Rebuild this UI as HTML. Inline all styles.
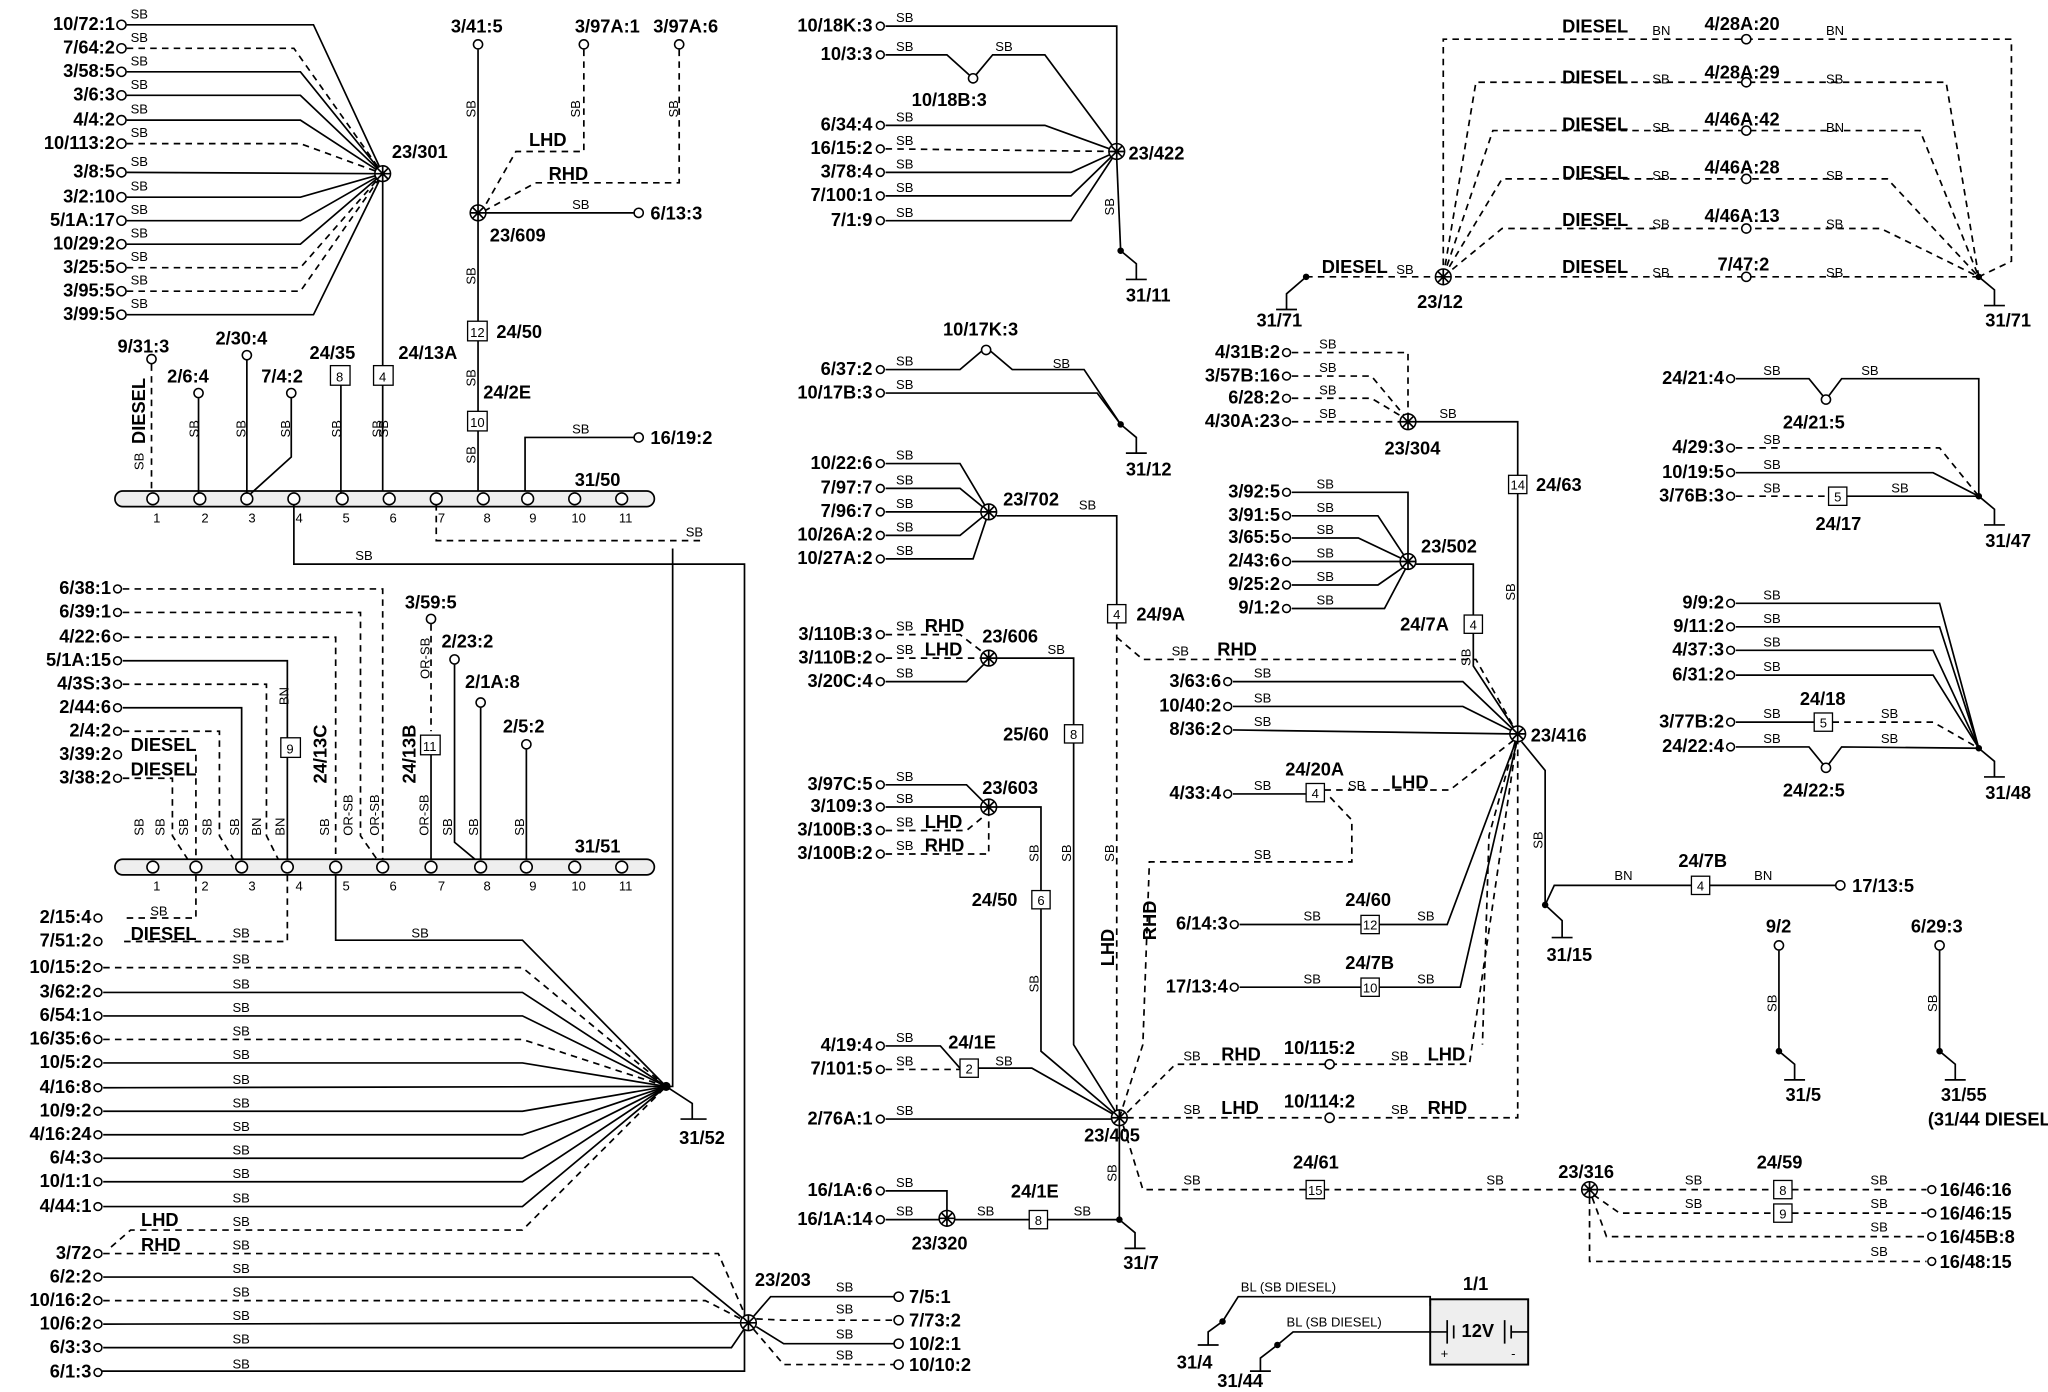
<!DOCTYPE html>
<html><head><meta charset="utf-8"><style>
html,body{margin:0;padding:0;background:#fff}
svg{display:block}
text{font-family:"Liberation Sans",sans-serif;fill:#000}
.t{font-size:14px;font-weight:bold}
.s{font-size:10px}
.n{font-size:10px}
line,path,polyline{stroke:#000;stroke-width:1.3;fill:none}
.d{stroke-dasharray:5,4}
.c{fill:#fff;stroke:#000;stroke-width:1.2}
</style></head><body>
<svg width="2048" height="1392" viewBox="0 0 1568 1066" preserveAspectRatio="none" xmlns="http://www.w3.org/2000/svg">
<defs>
<symbol id="h" overflow="visible"><g><circle r="6" fill="#fff" stroke="#000" stroke-width="1.2"/><path d="M-6 0H6M0-6V6M-4-4L4 4M-4 4L4-4" stroke-width="1"/></g></symbol>
<symbol id="g" overflow="visible"><path d="M0 0L12 10V22M4 22H20"/><circle r="2.5" fill="#000"/></symbol>
</defs>
<g>
<g class="t" text-anchor="end">
<text x="88" y="23">10/72:1</text><text x="88" y="41">7/64:2</text><text x="88" y="59">3/58:5</text>
<text x="88" y="77">3/6:3</text><text x="88" y="96">4/4:2</text><text x="88" y="114">10/113:2</text>
<text x="88" y="136">3/8:5</text><text x="88" y="155">3/2:10</text><text x="88" y="173">5/1A:17</text>
<text x="88" y="191">10/29:2</text><text x="88" y="209">3/25:5</text><text x="88" y="227">3/95:5</text>
<text x="88" y="245">3/99:5</text>
</g>
<g class="s"><text x="100" y="14">SB</text><text x="100" y="32">SB</text><text x="100" y="50">SB</text><text x="100" y="68">SB</text><text x="100" y="87">SB</text><text x="100" y="105">SB</text><text x="100" y="127">SB</text><text x="100" y="146">SB</text><text x="100" y="164">SB</text><text x="100" y="182">SB</text><text x="100" y="200">SB</text><text x="100" y="218">SB</text><text x="100" y="236">SB</text></g>
<g>
<circle class="c" cx="93" cy="19" r="3.5"/><circle class="c" cx="93" cy="37" r="3.5"/><circle class="c" cx="93" cy="55" r="3.5"/><circle class="c" cx="93" cy="73" r="3.5"/><circle class="c" cx="93" cy="92" r="3.5"/><circle class="c" cx="93" cy="110" r="3.5"/><circle class="c" cx="93" cy="132" r="3.5"/><circle class="c" cx="93" cy="151" r="3.5"/><circle class="c" cx="93" cy="169" r="3.5"/><circle class="c" cx="93" cy="187" r="3.5"/><circle class="c" cx="93" cy="205" r="3.5"/><circle class="c" cx="93" cy="223" r="3.5"/><circle class="c" cx="93" cy="241" r="3.5"/>
<polyline points="97,19 240,19 293,133"/>
<polyline class="d" points="97,37 225,37 293,133"/>
<polyline points="97,55 230,55 293,133"/>
<polyline points="97,73 230,73 293,133"/>
<polyline points="97,92 230,92 293,133"/>
<polyline class="d" points="97,110 230,110 293,133"/>
<polyline points="97,132 293,133"/>
<polyline points="97,151 230,151 293,133"/>
<polyline points="97,169 230,169 293,133"/>
<polyline points="97,187 230,187 293,133"/>
<polyline class="d" points="97,205 230,205 293,133"/>
<polyline class="d" points="97,223 230,223 293,133"/>
<polyline points="97,241 240,241 293,133"/>
<line x1="293" y1="133" x2="293" y2="380"/>
</g>
<use href="#h" x="293" y="133"/>
<text class="t" x="300" y="121">23/301</text>
<text class="s" transform="translate(292,335) rotate(-90)">SB</text>
<text class="t" x="365" y="25" text-anchor="middle">3/41:5</text>
<text class="t" x="465" y="25" text-anchor="middle">3/97A:1</text>
<text class="t" x="525" y="25" text-anchor="middle">3/97A:6</text>
<circle class="c" cx="366" cy="34" r="3.5"/><circle class="c" cx="447" cy="34" r="3.5"/><circle class="c" cx="520" cy="34" r="3.5"/>
<line x1="366" y1="38" x2="366" y2="380"/>
<polyline class="d" points="447,38 447,116 395,116 370,160"/>
<polyline class="d" points="520,38 520,140 410,140 370,162"/>
<text class="t" x="405" y="112">LHD</text><text class="t" x="420" y="138">RHD</text>
<text class="s" transform="translate(364,90) rotate(-90)">SB</text>
<text class="s" transform="translate(444,90) rotate(-90)">SB</text>
<text class="s" transform="translate(519,90) rotate(-90)">SB</text>
<use href="#h" x="366" y="163"/>
<line x1="372" y1="163" x2="485" y2="163"/><circle class="c" cx="489" cy="163" r="3.5"/>
<text class="s" x="438" y="160">SB</text><text class="t" x="498" y="168">6/13:3</text>
<text class="t" x="375" y="185">23/609</text>
<text class="s" transform="translate(364,218) rotate(-90)">SB</text>
<rect x="358" y="246" width="15" height="15" fill="#fff" stroke="#000"/><text class="n" x="365.5" y="258" text-anchor="middle">12</text>
<text class="t" x="380" y="259">24/50</text>
<text class="s" transform="translate(364,296) rotate(-90)">SB</text>
<text class="t" x="370" y="305">24/2E</text>
<rect x="358" y="315" width="15" height="15" fill="#fff" stroke="#000"/><text class="n" x="365.5" y="327" text-anchor="middle">10</text>
<text class="s" transform="translate(364,355) rotate(-90)">SB</text>
<polyline points="402,380 402,335 485,335"/><circle class="c" cx="489" cy="335" r="3.5"/>
<text class="s" x="438" y="332">SB</text><text class="t" x="498" y="340">16/19:2</text>
<rect x="88" y="376" width="413" height="12" rx="6" fill="#eee" stroke="#000" stroke-width="1.3"/>
<g class="c">
<circle cx="117" cy="382" r="4.5"/><circle cx="153" cy="382" r="4.5"/><circle cx="189" cy="382" r="4.5"/><circle cx="225" cy="382" r="4.5"/><circle cx="262" cy="382" r="4.5"/><circle cx="298" cy="382" r="4.5"/><circle cx="334" cy="382" r="4.5"/><circle cx="370" cy="382" r="4.5"/><circle cx="404" cy="382" r="4.5"/><circle cx="440" cy="382" r="4.5"/><circle cx="476" cy="382" r="4.5"/>
</g>
<g class="s" text-anchor="middle"><text x="120" y="400">1</text><text x="157" y="400">2</text><text x="193" y="400">3</text><text x="229" y="400">4</text><text x="265" y="400">5</text><text x="301" y="400">6</text><text x="338" y="400">7</text><text x="373" y="400">8</text><text x="408" y="400">9</text><text x="443" y="400">10</text><text x="479" y="400">11</text></g>
<text class="t" x="440" y="372">31/50</text>
<text class="t" x="90" y="270">9/31:3</text><circle class="c" cx="116" cy="275" r="3.5"/>
<line class="d" x1="116" y1="279" x2="116" y2="377"/>
<text class="t" transform="translate(111,340) rotate(-90)">DIESEL</text>
<text class="s" transform="translate(110,360) rotate(-90)">SB</text>
<text class="t" x="128" y="293">2/6:4</text><circle class="c" cx="152" cy="301" r="3.5"/><line x1="152" y1="305" x2="152" y2="378"/>
<text class="t" x="165" y="264">2/30:4</text><circle class="c" cx="189" cy="272" r="3.5"/><line x1="189" y1="276" x2="189" y2="378"/>
<text class="t" x="200" y="293">7/4:2</text><circle class="c" cx="223" cy="301" r="3.5"/><polyline points="223,305 223,350 192,378"/>
<text class="s" transform="translate(152,335) rotate(-90)">SB</text><text class="s" transform="translate(188,335) rotate(-90)">SB</text><text class="s" transform="translate(222,335) rotate(-90)">SB</text><text class="s" transform="translate(261,335) rotate(-90)">SB</text><text class="s" transform="translate(297,335) rotate(-90)">SB</text>
<text class="t" x="237" y="275">24/35</text><rect x="253" y="280" width="15" height="15" fill="#fff" stroke="#000"/><text class="n" x="260" y="292" text-anchor="middle">8</text><line x1="261" y1="295" x2="261" y2="378"/>
<rect x="286" y="280" width="15" height="15" fill="#fff" stroke="#000"/><text class="n" x="293" y="292" text-anchor="middle">4</text>
<text class="t" x="305" y="275">24/13A</text>
<polyline points="225,386 225,432 570,432 570,1050 77,1050"/>
<text class="s" x="272" y="429">SB</text>
<polyline class="d" points="334,386 334,414 540,414"/><text class="s" x="525" y="411">SB</text>
<g class="t" text-anchor="end">
<text x="85" y="455">6/38:1</text><text x="85" y="473">6/39:1</text><text x="85" y="492">4/22:6</text><text x="85" y="510">5/1A:15</text><text x="85" y="528">4/3S:3</text><text x="85" y="546">2/44:6</text><text x="85" y="564">2/4:2</text><text x="85" y="582">3/39:2</text><text x="85" y="600">3/38:2</text>
</g>
<g class="c"><circle cx="90" cy="451" r="3"/><circle cx="90" cy="469" r="3"/><circle cx="90" cy="488" r="3"/><circle cx="90" cy="506" r="3"/><circle cx="90" cy="524" r="3"/><circle cx="90" cy="542" r="3"/><circle cx="90" cy="560" r="3"/><circle cx="90" cy="578" r="3"/><circle cx="90" cy="596" r="3"/></g>
<polyline class="d" points="94,451 293,451 293,658"/>
<polyline class="d" points="94,469 276,469 276,640 290,660"/>
<polyline class="d" points="94,488 257,488 257,658"/>
<polyline points="94,506 220,506 220,658"/>
<polyline class="d" points="94,524 204,524 204,640 214,660"/>
<polyline points="94,542 185,542 185,658"/>
<polyline class="d" points="94,560 168,560 168,640 180,660"/>
<polyline class="d" points="150,578 150,658"/><polyline class="d" points="94,596 132,596 132,640 145,660"/>
<text class="t" x="100" y="575">DIESEL</text><text class="t" x="100" y="594">DIESEL</text>
<rect x="215" y="565" width="15" height="15" fill="#fff" stroke="#000"/><text class="n" x="222" y="577" text-anchor="middle">9</text>
<text class="t" transform="translate(250,600) rotate(-90)">24/13C</text>
<text class="s" transform="translate(221,540) rotate(-90)">BN</text>
<text class="t" x="310" y="466">3/59:5</text><circle class="c" cx="330" cy="474" r="3.5"/><line class="d" x1="330" y1="478" x2="330" y2="560"/>
<text class="s" transform="translate(329,520) rotate(-90)">OR-SB</text>
<rect x="322" y="563" width="15" height="15" fill="#fff" stroke="#000"/><text class="n" x="329" y="575" text-anchor="middle">11</text>
<line x1="330" y1="578" x2="330" y2="660"/>
<text class="t" transform="translate(318,600) rotate(-90)">24/13B</text>
<text class="t" x="338" y="496">2/23:2</text><circle class="c" cx="348" cy="505" r="3.5"/><polyline points="348,509 348,645 366,660"/>
<text class="t" x="356" y="527">2/1A:8</text><circle class="c" cx="368" cy="538" r="3.5"/><line x1="368" y1="542" x2="368" y2="660"/>
<text class="t" x="385" y="561">2/5:2</text><circle class="c" cx="403" cy="570" r="3.5"/><line x1="403" y1="574" x2="403" y2="660"/>
<g class="s">
<text transform="translate(110,640) rotate(-90)">SB</text><text transform="translate(126,640) rotate(-90)">SB</text><text transform="translate(144,640) rotate(-90)">SB</text><text transform="translate(162,640) rotate(-90)">SB</text><text transform="translate(183,640) rotate(-90)">SB</text><text transform="translate(200,640) rotate(-90)">BN</text><text transform="translate(218,640) rotate(-90)">BN</text><text transform="translate(252,640) rotate(-90)">SB</text><text transform="translate(270,640) rotate(-90)">OR-SB</text><text transform="translate(290,640) rotate(-90)">OR-SB</text><text transform="translate(328,640) rotate(-90)">OR-SB</text><text transform="translate(346,640) rotate(-90)">SB</text><text transform="translate(366,640) rotate(-90)">SB</text><text transform="translate(401,640) rotate(-90)">SB</text>
</g>
<rect x="88" y="658" width="413" height="12" rx="6" fill="#eee" stroke="#000" stroke-width="1.3"/>
<g class="c"><circle cx="117" cy="664" r="4.5"/><circle cx="150" cy="664" r="4.5"/><circle cx="185" cy="664" r="4.5"/><circle cx="220" cy="664" r="4.5"/><circle cx="257" cy="664" r="4.5"/><circle cx="293" cy="664" r="4.5"/><circle cx="330" cy="664" r="4.5"/><circle cx="368" cy="664" r="4.5"/><circle cx="403" cy="664" r="4.5"/><circle cx="440" cy="664" r="4.5"/><circle cx="476" cy="664" r="4.5"/></g>
<g class="s" text-anchor="middle"><text x="120" y="682">1</text><text x="157" y="682">2</text><text x="193" y="682">3</text><text x="229" y="682">4</text><text x="265" y="682">5</text><text x="301" y="682">6</text><text x="338" y="682">7</text><text x="373" y="682">8</text><text x="408" y="682">9</text><text x="443" y="682">10</text><text x="479" y="682">11</text></g>
<text class="t" x="440" y="653">31/51</text>
<polyline class="d" points="150,670 150,703 94,703"/><polyline class="d" points="220,670 220,721 94,721"/>
<text class="s" x="115" y="701">SB</text><text class="t" x="100" y="720">DIESEL</text>
<polyline points="257,670 257,720 400,720 510,832"/><text class="s" x="315" y="718">SB</text>
<g class="t" text-anchor="end">
<text x="70" y="707">2/15:4</text><text x="70" y="725">7/51:2</text><text x="70" y="745">10/15:2</text><text x="70" y="764">3/62:2</text><text x="70" y="782">6/54:1</text><text x="70" y="800">16/35:6</text><text x="70" y="818">10/5:2</text><text x="70" y="837">4/16:8</text><text x="70" y="855">10/9:2</text><text x="70" y="873">4/16:24</text><text x="70" y="891">6/4:3</text><text x="70" y="909">10/1:1</text><text x="70" y="928">4/44:1</text><text x="70" y="964">3/72</text><text x="70" y="982">6/2:2</text><text x="70" y="1000">10/16:2</text><text x="70" y="1018">10/6:2</text><text x="70" y="1036">6/3:3</text><text x="70" y="1055">6/1:3</text>
</g>
<g class="c"><circle cx="75" cy="703" r="3"/><circle cx="75" cy="721" r="3"/><circle cx="75" cy="741" r="3"/><circle cx="75" cy="760" r="3"/><circle cx="75" cy="778" r="3"/><circle cx="75" cy="796" r="3"/><circle cx="75" cy="814" r="3"/><circle cx="75" cy="833" r="3"/><circle cx="75" cy="851" r="3"/><circle cx="75" cy="869" r="3"/><circle cx="75" cy="887" r="3"/><circle cx="75" cy="905" r="3"/><circle cx="75" cy="924" r="3"/><circle cx="75" cy="960" r="3"/><circle cx="75" cy="978" r="3"/><circle cx="75" cy="996" r="3"/><circle cx="75" cy="1014" r="3"/><circle cx="75" cy="1032" r="3"/><circle cx="75" cy="1051" r="3"/></g>
<g class="s"><text x="178" y="718">SB</text><text x="178" y="738">SB</text><text x="178" y="757">SB</text><text x="178" y="775">SB</text><text x="178" y="793">SB</text><text x="178" y="811">SB</text><text x="178" y="830">SB</text><text x="178" y="848">SB</text><text x="178" y="866">SB</text><text x="178" y="884">SB</text><text x="178" y="902">SB</text><text x="178" y="921">SB</text><text x="178" y="939">SB</text><text x="178" y="957">SB</text><text x="178" y="975">SB</text><text x="178" y="993">SB</text><text x="178" y="1011">SB</text><text x="178" y="1029">SB</text><text x="178" y="1048">SB</text></g>
<polyline class="d" points="79,741 400,741 510,832"/>
<polyline points="79,760 400,760 510,832"/>
<polyline points="79,778 400,778 510,832"/>
<polyline class="d" points="79,796 400,796 510,832"/>
<polyline points="79,814 400,814 510,832"/>
<polyline points="79,833 510,832"/>
<polyline points="79,851 400,851 510,832"/>
<polyline points="79,869 400,869 510,832"/>
<polyline points="79,887 400,887 510,832"/>
<polyline points="79,905 400,905 510,832"/>
<polyline points="79,924 400,924 510,832"/>
<polyline class="d" points="85,955 100,942 400,942 510,832"/>
<text class="t" x="108" y="939">LHD</text><text class="t" x="108" y="958">RHD</text>
<polyline class="d" points="79,960 550,960 573,1013"/>
<polyline points="79,978 530,978 573,1013"/>
<polyline class="d" points="79,996 540,996 573,1013"/>
<polyline points="79,1014 573,1013"/>
<polyline points="79,1032 560,1032 573,1013"/>
<circle cx="510" cy="832" r="3.5" fill="#000"/>
<polyline points="510,832 530,845 530,857"/><line x1="521" y1="857" x2="541" y2="857"/>
<text class="t" x="520" y="876">31/52</text>
<polyline points="510,832 515,832 515,420"/>
<use href="#h" x="573" y="1013"/>
<text class="t" x="578" y="985">23/203</text>
<polyline points="577,1008 590,993 685,993"/><polyline class="d" points="579,1010 600,1011 685,1011"/><polyline points="579,1016 600,1029 685,1029"/><polyline class="d" points="577,1018 600,1045 685,1045"/>
<g class="c"><circle cx="688" cy="993" r="3.5"/><circle cx="688" cy="1011" r="3.5"/><circle cx="688" cy="1029" r="3.5"/><circle cx="688" cy="1045" r="3.5"/></g>
<g class="s"><text x="640" y="989">SB</text><text x="640" y="1006">SB</text><text x="640" y="1025">SB</text><text x="640" y="1041">SB</text></g>
<g class="t"><text x="696" y="998">7/5:1</text><text x="696" y="1016">7/73:2</text><text x="696" y="1034">10/2:1</text><text x="696" y="1050">10/10:2</text></g>
<g class="t" text-anchor="end">
<text x="668" y="24">10/18K:3</text><text x="668" y="46">10/3:3</text><text x="668" y="100">6/34:4</text><text x="668" y="118">16/15:2</text><text x="668" y="136">3/78:4</text><text x="668" y="154">7/100:1</text><text x="668" y="173">7/1:9</text>
<text x="668" y="287">6/37:2</text><text x="668" y="305">10/17B:3</text>
<text x="668" y="359">10/22:6</text><text x="668" y="378">7/97:7</text><text x="668" y="396">7/96:7</text><text x="668" y="414">10/26A:2</text><text x="668" y="432">10/27A:2</text>
<text x="668" y="490">3/110B:3</text><text x="668" y="508">3/110B:2</text><text x="668" y="526">3/20C:4</text>
<text x="668" y="605">3/97C:5</text><text x="668" y="622">3/109:3</text><text x="668" y="640">3/100B:3</text><text x="668" y="658">3/100B:2</text>
<text x="668" y="805">4/19:4</text><text x="668" y="823">7/101:5</text><text x="668" y="861">2/76A:1</text>
<text x="668" y="916">16/1A:6</text><text x="668" y="938">16/1A:14</text>
</g>
<g class="c">
<circle cx="674" cy="20" r="3"/><circle cx="674" cy="42" r="3"/><circle cx="674" cy="96" r="3"/><circle cx="674" cy="114" r="3"/><circle cx="674" cy="132" r="3"/><circle cx="674" cy="150" r="3"/><circle cx="674" cy="169" r="3"/><circle cx="674" cy="283" r="3"/><circle cx="674" cy="301" r="3"/><circle cx="674" cy="355" r="3"/><circle cx="674" cy="374" r="3"/><circle cx="674" cy="392" r="3"/><circle cx="674" cy="410" r="3"/><circle cx="674" cy="428" r="3"/><circle cx="674" cy="486" r="3"/><circle cx="674" cy="504" r="3"/><circle cx="674" cy="522" r="3"/><circle cx="674" cy="601" r="3"/><circle cx="674" cy="618" r="3"/><circle cx="674" cy="636" r="3"/><circle cx="674" cy="654" r="3"/><circle cx="674" cy="801" r="3"/><circle cx="674" cy="819" r="3"/><circle cx="674" cy="857" r="3"/><circle cx="674" cy="912" r="3"/><circle cx="674" cy="934" r="3"/>
</g>
<g class="s"><text x="686" y="17">SB</text><text x="686" y="39">SB</text><text x="762" y="39">SB</text><text x="686" y="93">SB</text><text x="686" y="111">SB</text><text x="686" y="129">SB</text><text x="686" y="147">SB</text><text x="686" y="166">SB</text><text x="686" y="280">SB</text><text x="686" y="298">SB</text><text x="806" y="282">SB</text><text x="686" y="352">SB</text><text x="686" y="371">SB</text><text x="686" y="389">SB</text><text x="686" y="407">SB</text><text x="686" y="425">SB</text><text x="826" y="390">SB</text><text x="686" y="483">SB</text><text x="686" y="501">SB</text><text x="686" y="519">SB</text><text x="802" y="501">SB</text><text x="686" y="598">SB</text><text x="686" y="615">SB</text><text x="686" y="633">SB</text><text x="686" y="651">SB</text><text x="686" y="798">SB</text><text x="686" y="816">SB</text><text x="762" y="816">SB</text><text x="686" y="854">SB</text><text x="686" y="909">SB</text><text x="686" y="931">SB</text><text x="748" y="931">SB</text><text x="822" y="931">SB</text></g>
<polyline points="678,20 855,20 855,116"/>
<polyline points="678,42 725,42 745,60 760,42 800,42 855,116"/>
<circle class="c" cx="745" cy="60" r="3.5"/><text class="t" x="698" y="81">10/18B:3</text>
<polyline points="678,96 800,96 855,116"/><polyline class="d" points="678,114 855,116"/><polyline points="678,132 820,132 855,116"/><polyline points="678,150 820,150 855,116"/><polyline points="678,169 820,169 855,116"/>
<use href="#h" x="855" y="116"/><text class="t" x="864" y="122">23/422</text>
<line x1="855" y1="122" x2="858" y2="192"/><text class="s" transform="translate(853,165) rotate(-90)">SB</text>
<use href="#g" x="858" y="192"/><text class="t" x="862" y="231">31/11</text>
<polyline points="678,283 735,283 755,266 775,283 830,283 858,325"/><circle class="c" cx="755" cy="268" r="3.5"/>
<text class="t" x="722" y="257">10/17K:3</text>
<polyline points="678,301 840,301 858,325"/>
<use href="#g" x="858" y="325"/><text class="t" x="862" y="364">31/12</text>
<polyline points="678,355 735,355 757,392"/><polyline points="678,374 735,374 757,392"/><polyline points="678,392 757,392"/><polyline points="678,410 735,410 757,392"/><polyline points="678,428 745,428 757,392"/>
<use href="#h" x="757" y="392"/><text class="t" x="768" y="387">23/702</text>
<polyline points="763,395 855,395 855,463"/>
<rect x="848" y="463" width="14" height="14" fill="#fff" stroke="#000"/><text class="n" x="855" y="474" text-anchor="middle">4</text>
<text class="t" x="870" y="475">24/9A</text>
<polyline class="d" points="855,477 855,856"/>
<text class="s" transform="translate(853,660) rotate(-90)">SB</text>
<text class="t" transform="translate(853,740) rotate(-90)">LHD</text>
<polyline class="d" points="678,486 735,486 757,503"/><polyline class="d" points="678,504 757,504"/><polyline points="678,522 740,522 757,505"/>
<text class="t" x="708" y="484">RHD</text><text class="t" x="708" y="502">LHD</text>
<use href="#h" x="757" y="504"/><text class="t" x="752" y="492">23/606</text>
<polyline points="763,504 822,504 822,555"/>
<rect x="815" y="555" width="14" height="14" fill="#fff" stroke="#000"/><text class="n" x="822" y="566" text-anchor="middle">8</text>
<text class="t" x="768" y="567">25/60</text>
<polyline points="822,569 822,800 857,856"/>
<text class="s" transform="translate(820,660) rotate(-90)">SB</text>
<polyline points="678,601 740,601 757,618"/><polyline points="678,618 757,618"/><polyline class="d" points="678,636 740,636 757,622"/><polyline class="d" points="678,654 757,654 757,624"/>
<text class="t" x="708" y="634">LHD</text><text class="t" x="708" y="652">RHD</text>
<use href="#h" x="757" y="618"/><text class="t" x="752" y="608">23/603</text>
<polyline points="763,618 797,618 797,682"/>
<rect x="790" y="682" width="14" height="14" fill="#fff" stroke="#000"/><text class="n" x="797" y="693" text-anchor="middle">6</text>
<text class="t" x="744" y="694">24/50</text>
<polyline points="797,696 797,805 857,856"/>
<text class="s" transform="translate(795,660) rotate(-90)">SB</text><text class="s" transform="translate(795,760) rotate(-90)">SB</text>
<polyline points="678,801 720,801 735,818"/><polyline class="d" points="678,819 735,819"/>
<rect x="735" y="811" width="14" height="14" fill="#fff" stroke="#000"/><text class="n" x="742" y="822" text-anchor="middle">2</text>
<text class="t" x="726" y="803">24/1E</text>
<polyline points="749,818 790,818 857,856"/>
<line x1="678" y1="857" x2="851" y2="857"/>
<use href="#h" x="857" y="856"/><text class="t" x="830" y="874">23/405</text>
<line x1="857" y1="862" x2="857" y2="934"/><text class="s" transform="translate(855,905) rotate(-90)">SB</text>
<use href="#g" x="857" y="934"/><text class="t" x="860" y="972">31/7</text>
<polyline points="678,912 725,912 725,933"/><polyline points="678,934 795,934"/>
<use href="#h" x="725" y="933"/><text class="t" x="698" y="957">23/320</text>
<rect x="788" y="927" width="14" height="14" fill="#fff" stroke="#000"/><text class="n" x="795" y="938" text-anchor="middle">8</text>
<text class="t" x="774" y="917">24/1E</text>
<line x1="802" y1="934" x2="857" y2="934"/>
<polyline class="d" points="857,856 875,800 880,660 1035,660 1035,628 1016,608"/>
<text class="t" transform="translate(885,720) rotate(-90)">RHD</text>
<text class="s" x="960" y="658">SB</text>
<polyline class="d" points="855,488 875,505 1130,505 1162,562"/>
<text class="s" x="897" y="502">SB</text><text class="t" x="932" y="502">RHD</text>
<polyline class="d" points="863,852 900,815 1125,815 1162,562"/>
<polyline class="d" points="863,856 1162,856 1162,562"/>
<circle class="c" cx="1018" cy="815" r="3.5"/><circle class="c" cx="1018" cy="856" r="3.5"/>
<text class="t" x="983" y="807">10/115:2</text><text class="t" x="983" y="848">10/114:2</text>
<text class="s" x="906" y="812">SB</text><text class="t" x="935" y="812">RHD</text><text class="s" x="1065" y="812">SB</text><text class="t" x="1093" y="812">LHD</text>
<text class="s" x="906" y="853">SB</text><text class="t" x="935" y="853">LHD</text><text class="s" x="1065" y="853">SB</text><text class="t" x="1093" y="853">RHD</text>
<polyline class="d" points="860,862 875,911 1217,911"/>
<rect x="1000" y="904" width="14" height="14" fill="#fff" stroke="#000"/><text class="n" x="1007" y="915" text-anchor="middle">15</text>
<text class="t" x="990" y="895">24/61</text><text class="s" x="906" y="907">SB</text><text class="s" x="1138" y="907">SB</text>
<polyline class="d" points="1105,212 1105,30 1133,30 1540,30 1540,200 1515,212"/>
<polyline class="d" points="1105,212 1130,63 1490,63 1515,212"/>
<polyline class="d" points="1105,212 1143,100 1470,100 1515,212"/>
<polyline class="d" points="1105,212 1150,137 1445,137 1515,212"/>
<polyline class="d" points="1105,212 1150,175 1440,175 1515,212"/>
<polyline class="d" points="1105,212 1515,212"/>
<polyline class="d" points="1000,212 1105,212"/>
<g class="c"><circle cx="1337" cy="30" r="3.5"/><circle cx="1337" cy="63" r="3.5"/><circle cx="1337" cy="100" r="3.5"/><circle cx="1337" cy="137" r="3.5"/><circle cx="1337" cy="175" r="3.5"/><circle cx="1337" cy="212" r="3.5"/></g>
<g class="t"><text x="1196" y="25">DIESEL</text><text x="1196" y="64">DIESEL</text><text x="1196" y="100">DIESEL</text><text x="1196" y="137">DIESEL</text><text x="1196" y="173">DIESEL</text><text x="1196" y="209">DIESEL</text><text x="1012" y="209">DIESEL</text>
<text x="1305" y="23">4/28A:20</text><text x="1305" y="60">4/28A:29</text><text x="1305" y="96">4/46A:42</text><text x="1305" y="133">4/46A:28</text><text x="1305" y="170">4/46A:13</text><text x="1315" y="207">7/47:2</text></g>
<g class="s"><text x="1265" y="27">BN</text><text x="1398" y="27">BN</text><text x="1265" y="64">SB</text><text x="1398" y="64">SB</text><text x="1265" y="101">SB</text><text x="1398" y="101">BN</text><text x="1265" y="138">SB</text><text x="1398" y="138">SB</text><text x="1265" y="175">SB</text><text x="1398" y="175">SB</text><text x="1265" y="212">SB</text><text x="1398" y="212">SB</text><text x="1069" y="210">SB</text></g>
<use href="#h" x="1105" y="212"/><text class="t" x="1085" y="236">23/12</text>
<circle cx="1000" cy="212" r="2.5" fill="#000"/><polyline points="1000,212 985,225 985,237"/><line x1="977" y1="237" x2="993" y2="237"/><text class="t" x="962" y="250">31/71</text>
<use href="#g" x="1515" y="212"/><text class="t" x="1520" y="250">31/71</text>
<g class="t" text-anchor="end"><text x="980" y="274">4/31B:2</text><text x="980" y="292">3/57B:16</text><text x="980" y="309">6/28:2</text><text x="980" y="327">4/30A:23</text></g>
<g class="c"><circle cx="985" cy="270" r="3"/><circle cx="985" cy="288" r="3"/><circle cx="985" cy="305" r="3"/><circle cx="985" cy="323" r="3"/></g>
<polyline class="d" points="989,270 1078,270 1078,318"/><polyline class="d" points="989,288 1050,288 1075,318"/><polyline class="d" points="989,305 1050,305 1075,320"/><polyline class="d" points="989,323 1072,323"/>
<g class="s"><text x="1010" y="267">SB</text><text x="1010" y="285">SB</text><text x="1010" y="302">SB</text><text x="1010" y="320">SB</text><text x="1102" y="320">SB</text></g>
<use href="#h" x="1078" y="323"/><text class="t" x="1060" y="348">23/304</text>
<polyline points="1084,323 1162,323 1162,364"/>
<rect x="1155" y="364" width="14" height="14" fill="#fff" stroke="#000"/><text class="n" x="1162" y="375" text-anchor="middle">14</text>
<text class="t" x="1176" y="376">24/63</text>
<line x1="1162" y1="378" x2="1162" y2="556"/><text class="s" transform="translate(1160,460) rotate(-90)">SB</text>
<g class="t" text-anchor="end"><text x="980" y="381">3/92:5</text><text x="980" y="399">3/91:5</text><text x="980" y="416">3/65:5</text><text x="980" y="434">2/43:6</text><text x="980" y="452">9/25:2</text><text x="980" y="470">9/1:2</text></g>
<g class="c"><circle cx="985" cy="377" r="3"/><circle cx="985" cy="395" r="3"/><circle cx="985" cy="412" r="3"/><circle cx="985" cy="430" r="3"/><circle cx="985" cy="448" r="3"/><circle cx="985" cy="466" r="3"/></g>
<g class="s"><text x="1008" y="374">SB</text><text x="1008" y="392">SB</text><text x="1008" y="409">SB</text><text x="1008" y="427">SB</text><text x="1008" y="445">SB</text><text x="1008" y="463">SB</text></g>
<polyline points="989,377 1078,377 1078,430"/><polyline points="989,395 1055,395 1078,430"/><polyline points="989,412 1040,412 1078,430"/><polyline points="989,430 1078,430"/><polyline points="989,448 1055,448 1078,432"/><polyline points="989,466 1060,466 1078,432"/>
<use href="#h" x="1078" y="430"/><text class="t" x="1088" y="423">23/502</text>
<polyline points="1084,432 1128,432 1128,471"/>
<rect x="1121" y="471" width="14" height="14" fill="#fff" stroke="#000"/><text class="n" x="1128" y="482" text-anchor="middle">4</text>
<text class="t" x="1072" y="483">24/7A</text>
<polyline points="1128,485 1128,510 1162,562"/><text class="s" transform="translate(1126,510) rotate(-90)">SB</text>
<g class="t" text-anchor="end"><text x="935" y="526">3/63:6</text><text x="935" y="545">10/40:2</text><text x="935" y="563">8/36:2</text><text x="935" y="612">4/33:4</text><text x="940" y="712">6/14:3</text><text x="940" y="760">17/13:4</text></g>
<g class="c"><circle cx="940" cy="522" r="3"/><circle cx="940" cy="541" r="3"/><circle cx="940" cy="559" r="3"/><circle cx="940" cy="608" r="3"/><circle cx="945" cy="708" r="3"/><circle cx="945" cy="756" r="3"/></g>
<g class="s"><text x="960" y="519">SB</text><text x="960" y="538">SB</text><text x="960" y="556">SB</text><text x="960" y="605">SB</text><text x="1032" y="605">SB</text><text x="998" y="705">SB</text><text x="1085" y="705">SB</text><text x="998" y="753">SB</text><text x="1085" y="753">SB</text></g>
<polyline points="944,522 1120,522 1162,562"/><polyline points="944,541 1120,541 1162,562"/><polyline points="944,559 1156,562"/>
<polyline points="944,608 1000,608"/>
<rect x="1000" y="600" width="14" height="14" fill="#fff" stroke="#000"/><text class="n" x="1007" y="611" text-anchor="middle">4</text>
<text class="t" x="984" y="594">24/20A</text>
<polyline class="d" points="1014,605 1110,605 1160,566"/><text class="t" x="1065" y="604">LHD</text>
<polyline points="949,708 1042,708"/>
<rect x="1042" y="701" width="14" height="14" fill="#fff" stroke="#000"/><text class="n" x="1049" y="712" text-anchor="middle">12</text>
<text class="t" x="1030" y="694">24/60</text>
<polyline points="1056,708 1108,708 1162,564"/>
<polyline points="949,756 1042,756"/>
<rect x="1042" y="749" width="14" height="14" fill="#fff" stroke="#000"/><text class="n" x="1049" y="760" text-anchor="middle">10</text>
<text class="t" x="1030" y="742">24/7B</text>
<polyline points="1056,756 1118,756 1162,565"/>
<polyline class="d" points="1160,568 1140,640 1135,800"/>
<use href="#h" x="1162" y="562"/><text class="t" x="1172" y="568">23/416</text>
<polyline points="1165,568 1183,590 1183,693"/><text class="s" transform="translate(1181,650) rotate(-90)">SB</text>
<circle cx="1183" cy="693" r="2.5" fill="#000"/><polyline points="1183,693 1196,705 1196,718"/><line x1="1188" y1="718" x2="1204" y2="718"/><text class="t" x="1184" y="736">31/15</text>
<polyline points="1183,693 1190,678 1295,678"/><text class="s" x="1236" y="674">BN</text>
<rect x="1295" y="671" width="14" height="14" fill="#fff" stroke="#000"/><text class="n" x="1302" y="682" text-anchor="middle">4</text>
<text class="t" x="1285" y="664">24/7B</text>
<line x1="1309" y1="678" x2="1405" y2="678"/><text class="s" x="1343" y="674">BN</text>
<circle class="c" cx="1409" cy="678" r="3.5"/><text class="t" x="1418" y="683">17/13:5</text>
<g class="t" text-anchor="end"><text x="1320" y="294">24/21:4</text><text x="1320" y="347">4/29:3</text><text x="1320" y="366">10/19:5</text><text x="1320" y="384">3/76B:3</text></g>
<g class="c"><circle cx="1325" cy="290" r="3"/><circle cx="1325" cy="343" r="3"/><circle cx="1325" cy="362" r="3"/><circle cx="1325" cy="380" r="3"/></g>
<g class="s"><text x="1350" y="287">SB</text><text x="1425" y="287">SB</text><text x="1350" y="340">SB</text><text x="1350" y="359">SB</text><text x="1350" y="377">SB</text><text x="1448" y="377">SB</text></g>
<polyline points="1329,290 1385,290 1398,306 1410,290 1515,290 1515,380"/><circle class="c" cx="1398" cy="306" r="3.5"/>
<text class="t" x="1365" y="328">24/21:5</text>
<polyline class="d" points="1329,343 1485,343 1515,380"/><polyline points="1329,362 1480,362 1515,380"/><polyline class="d" points="1329,380 1400,380"/>
<rect x="1400" y="373" width="14" height="14" fill="#fff" stroke="#000"/><text class="n" x="1407" y="384" text-anchor="middle">5</text>
<line x1="1414" y1="380" x2="1515" y2="380"/><text class="t" x="1390" y="406">24/17</text>
<use href="#g" x="1515" y="380"/><text class="t" x="1520" y="419">31/47</text>
<g class="t" text-anchor="end"><text x="1320" y="466">9/9:2</text><text x="1320" y="484">9/11:2</text><text x="1320" y="502">4/37:3</text><text x="1320" y="521">6/31:2</text><text x="1320" y="557">3/77B:2</text><text x="1320" y="576">24/22:4</text></g>
<g class="c"><circle cx="1325" cy="462" r="3"/><circle cx="1325" cy="480" r="3"/><circle cx="1325" cy="498" r="3"/><circle cx="1325" cy="517" r="3"/><circle cx="1325" cy="553" r="3"/><circle cx="1325" cy="572" r="3"/></g>
<g class="s"><text x="1350" y="459">SB</text><text x="1350" y="477">SB</text><text x="1350" y="495">SB</text><text x="1350" y="514">SB</text><text x="1350" y="550">SB</text><text x="1440" y="550">SB</text><text x="1350" y="569">SB</text><text x="1440" y="569">SB</text></g>
<polyline points="1329,462 1485,462 1515,573"/><polyline points="1329,480 1485,480 1515,573"/><polyline points="1329,498 1480,498 1515,573"/><polyline points="1329,517 1480,517 1515,573"/>
<polyline points="1329,553 1389,553"/><rect x="1389" y="546" width="14" height="14" fill="#fff" stroke="#000"/><text class="n" x="1396" y="557" text-anchor="middle">5</text>
<polyline class="d" points="1403,553 1480,553 1515,573"/><text class="t" x="1378" y="540">24/18</text>
<polyline points="1329,572 1385,572 1398,588 1410,572 1515,573"/><circle class="c" cx="1398" cy="588" r="3.5"/>
<text class="t" x="1365" y="610">24/22:5</text>
<use href="#g" x="1515" y="573"/><text class="t" x="1520" y="612">31/48</text>
<text class="t" x="1352" y="714">9/2</text><circle class="c" cx="1362" cy="724" r="3.5"/><line x1="1362" y1="728" x2="1362" y2="805"/>
<text class="s" transform="translate(1360,775) rotate(-90)">SB</text>
<use href="#g" x="1362" y="805"/><text class="t" x="1367" y="843">31/5</text>
<text class="t" x="1463" y="714">6/29:3</text><circle class="c" cx="1485" cy="724" r="3.5"/><line x1="1485" y1="728" x2="1485" y2="805"/>
<text class="s" transform="translate(1483,775) rotate(-90)">SB</text>
<use href="#g" x="1485" y="805"/><text class="t" x="1486" y="843">31/55</text><text class="t" x="1476" y="862">(31/44 DIESEL)</text>
<use href="#h" x="1217" y="911"/><text class="t" x="1193" y="902">23/316</text>
<polyline class="d" points="1223,911 1358,911"/><polyline class="d" points="1220,915 1240,929 1358,929"/><polyline class="d" points="1219,917 1230,947 1475,947"/><polyline class="d" points="1217,917 1217,966 1475,966"/>
<rect x="1358" y="904" width="14" height="14" fill="#fff" stroke="#000"/><text class="n" x="1365" y="915" text-anchor="middle">8</text>
<rect x="1358" y="922" width="14" height="14" fill="#fff" stroke="#000"/><text class="n" x="1365" y="933" text-anchor="middle">9</text>
<text class="t" x="1345" y="895">24/59</text>
<polyline class="d" points="1372,911 1475,911"/><polyline class="d" points="1372,929 1475,929"/>
<g class="s"><text x="1290" y="907">SB</text><text x="1290" y="925">SB</text><text x="1432" y="907">SB</text><text x="1432" y="925">SB</text><text x="1432" y="943">SB</text><text x="1432" y="962">SB</text></g>
<g class="c"><circle cx="1479" cy="911" r="3"/><circle cx="1479" cy="929" r="3"/><circle cx="1479" cy="947" r="3"/><circle cx="1479" cy="966" r="3"/></g>
<g class="t"><text x="1485" y="916">16/46:16</text><text x="1485" y="934">16/46:15</text><text x="1485" y="952">16/45B:8</text><text x="1485" y="971">16/48:15</text></g>
<text class="t" x="1120" y="988">1/1</text>
<rect x="1095" y="995" width="75" height="50" fill="#eee" stroke="#000" stroke-width="1.5"/>
<path d="M1095 1020H1108M1108 1011V1029M1113 1015V1025M1152 1011V1029M1157 1015V1025M1157 1020H1170"/>
<text class="t" x="1119" y="1024">12V</text>
<text class="s" x="1103" y="1040">+</text><text class="s" x="1157" y="1040">-</text>
<polyline points="936,1012 948,993 1095,993 1095,1000"/><circle cx="936" cy="1012" r="2.5" fill="#000"/>
<text class="s" x="950" y="989">BL (SB DIESEL)</text>
<polyline points="936,1012 925,1020 925,1030"/><line x1="917" y1="1030" x2="933" y2="1030"/><text class="t" x="901" y="1048">31/4</text>
<circle cx="978" cy="1030" r="2.5" fill="#000"/><polyline points="978,1030 990,1020 1095,1020"/>
<text class="s" x="985" y="1016">BL (SB DIESEL)</text>
<polyline points="978,1030 965,1040 965,1050"/><line x1="957" y1="1050" x2="973" y2="1050"/><text class="t" x="932" y="1062">31/44</text>
</g>
</svg>
</body></html>
